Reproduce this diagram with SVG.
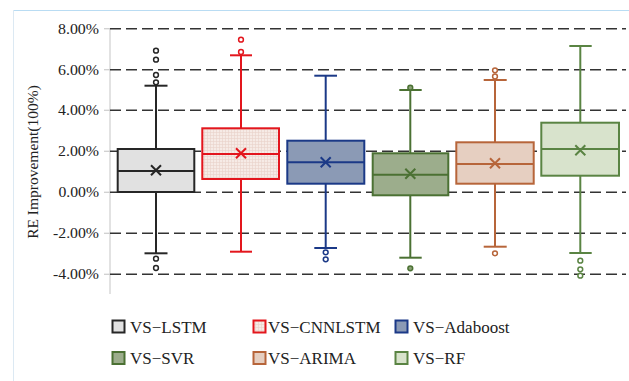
<svg xmlns="http://www.w3.org/2000/svg" width="629" height="381" viewBox="0 0 629 381">
<defs>
<pattern id="pgrid" width="3" height="3" patternUnits="userSpaceOnUse">
<rect width="3" height="3" fill="#f6ebe6"/>
<path d="M0 0.5H3M0.5 0V3" stroke="#ead2ca" stroke-width="0.6" fill="none"/>
</pattern>
<style>
.tick{font-family:"Liberation Serif","Times New Roman",serif;font-size:14px;fill:#222;text-anchor:end}
.leg{font-family:"Liberation Serif","Times New Roman",serif;font-size:17px;fill:#222}
.grid{stroke:#333;stroke-width:1.6;stroke-dasharray:11 5;fill:none}
.b{stroke-width:2}
.o{stroke-width:1.5;fill:#fff}
</style>
</defs>
<rect width="629" height="381" fill="#fff"/>
<!-- frame -->
<line x1="13" y1="10.5" x2="629" y2="10.5" stroke="#b9dcf3" stroke-width="1.2"/>
<line x1="13.5" y1="10" x2="13.5" y2="381" stroke="#dce9f3" stroke-width="1"/>
<!-- axis -->
<g id="axis">
<line x1="110" y1="28" x2="110" y2="294" stroke="#d9d9d9" stroke-width="1.5"/>
<g stroke="#cfcfcf" stroke-width="1.3">
<line x1="104" y1="28.7" x2="110" y2="28.7"/>
<line x1="104" y1="69.7" x2="110" y2="69.7"/>
<line x1="104" y1="110.3" x2="110" y2="110.3"/>
<line x1="104" y1="151.3" x2="110" y2="151.3"/>
<line x1="104" y1="192.3" x2="110" y2="192.3"/>
<line x1="104" y1="233.3" x2="110" y2="233.3"/>
<line x1="104" y1="274.3" x2="110" y2="274.3"/>
</g>
<text class="tick" x="99" y="33.5" textLength="41" lengthAdjust="spacingAndGlyphs">8.00%</text>
<text class="tick" x="99" y="74.5" textLength="41" lengthAdjust="spacingAndGlyphs">6.00%</text>
<text class="tick" x="99" y="115" textLength="41" lengthAdjust="spacingAndGlyphs">4.00%</text>
<text class="tick" x="99" y="156" textLength="41" lengthAdjust="spacingAndGlyphs">2.00%</text>
<text class="tick" x="99" y="197" textLength="40.5" lengthAdjust="spacingAndGlyphs">0.00%</text>
<text class="tick" x="99" y="238" textLength="46" lengthAdjust="spacingAndGlyphs">-2.00%</text>
<text class="tick" x="99" y="279" textLength="46" lengthAdjust="spacingAndGlyphs">-4.00%</text>
<text transform="translate(38,162) rotate(-90)" text-anchor="middle" font-family="Liberation Serif, Times New Roman, serif" font-size="15.5" fill="#222">RE Improvement(100%)</text>
</g>
<g id="gridlines">
<line class="grid" x1="110" y1="28.7" x2="626" y2="28.7"/>
<line class="grid" x1="110" y1="69.7" x2="626" y2="69.7"/>
<line class="grid" x1="110" y1="110.3" x2="626" y2="110.3"/>
<line class="grid" x1="110" y1="151.3" x2="626" y2="151.3"/>
<line class="grid" x1="110" y1="192.3" x2="626" y2="192.3"/>
<line class="grid" x1="110" y1="233.3" x2="626" y2="233.3"/>
<line class="grid" x1="110" y1="274.3" x2="626" y2="274.3"/>
</g>
<!-- box 1 LSTM -->
<g id="box-lstm" stroke="#262626" class="b">
<line x1="156" y1="85.7" x2="156" y2="253.3" stroke-width="2"/>
<line x1="144.5" y1="85.7" x2="167.5" y2="85.7" stroke-width="2"/>
<line x1="144.5" y1="253.3" x2="167.5" y2="253.3" stroke-width="2"/>
<rect x="117.7" y="149" width="76.6" height="43" fill="#e1e1e1" stroke-width="2"/>
<line x1="117.7" y1="171" x2="194.3" y2="171" stroke-width="2"/>
<path d="M151 165.3L161 175.3M161 165.3L151 175.3" stroke-width="2"/>
<g class="o"><circle cx="156" cy="50.7" r="2.4"/><circle cx="156" cy="59.7" r="2.4"/><circle cx="156" cy="75" r="2.4"/><circle cx="156" cy="82.3" r="2.4"/><circle cx="156" cy="258.7" r="2.4"/><circle cx="156" cy="268" r="2.4"/></g>
</g>
<!-- box 2 CNNLSTM -->
<g id="box-cnnlstm" stroke="#e3161d">
<line x1="241" y1="55.3" x2="241" y2="251.7" stroke-width="2"/>
<line x1="230" y1="55.3" x2="252" y2="55.3" stroke-width="2"/>
<line x1="230" y1="251.7" x2="252" y2="251.7" stroke-width="2"/>
<rect x="202.3" y="128.3" width="76.7" height="50.7" fill="url(#pgrid)" stroke-width="2"/>
<line x1="202.3" y1="154" x2="279" y2="154" stroke-width="2"/>
<path d="M236 148.3L246 158.3M246 148.3L236 158.3" stroke-width="2"/>
<g class="o"><circle cx="241" cy="39.7" r="2.4"/><circle cx="241" cy="52" r="2.4"/></g>
</g>
<!-- box 3 Adaboost -->
<g id="box-adaboost" stroke="#1b3987">
<line x1="325.7" y1="75.7" x2="325.7" y2="248" stroke-width="2"/>
<line x1="314.3" y1="75.7" x2="337" y2="75.7" stroke-width="2"/>
<line x1="314.3" y1="248" x2="337" y2="248" stroke-width="2"/>
<rect x="287.3" y="140.7" width="77" height="43" fill="#8b9ab5" stroke-width="2"/>
<line x1="287.3" y1="162.3" x2="364.3" y2="162.3" stroke-width="2"/>
<path d="M320.7 157.3L330.7 167.3M330.7 157.3L320.7 167.3" stroke-width="2"/>
<g class="o"><circle cx="325.7" cy="252.3" r="2.4"/><circle cx="325.7" cy="259.3" r="2.4"/></g>
</g>
<!-- box 4 SVR -->
<g id="box-svr" stroke="#4b7133">
<line x1="410.3" y1="90" x2="410.3" y2="257.7" stroke-width="2"/>
<line x1="399.3" y1="90" x2="421.7" y2="90" stroke-width="2"/>
<line x1="399.3" y1="257.7" x2="421.7" y2="257.7" stroke-width="2"/>
<rect x="372.7" y="153.3" width="75.6" height="42" fill="#9cad8c" stroke-width="2"/>
<line x1="372.7" y1="174.7" x2="448.3" y2="174.7" stroke-width="2"/>
<path d="M405.3 168.7L415.3 178.7M415.3 168.7L405.3 178.7" stroke-width="2"/>
<g stroke-width="1.5" fill="#8ba277"><circle cx="410.3" cy="87.7" r="2.4"/><circle cx="410.3" cy="268.3" r="2.4"/></g>
</g>
<!-- box 5 ARIMA -->
<g id="box-arima" stroke="#b7653a">
<line x1="495" y1="80" x2="495" y2="246.7" stroke-width="2"/>
<line x1="483.7" y1="80" x2="506.7" y2="80" stroke-width="2"/>
<line x1="483.7" y1="246.7" x2="506.7" y2="246.7" stroke-width="2"/>
<rect x="456.3" y="142.3" width="77.4" height="41.4" fill="#e6cfc1" stroke-width="2"/>
<line x1="456.3" y1="164" x2="533.7" y2="164" stroke-width="2"/>
<path d="M490 158.3L500 168.3M500 158.3L490 168.3" stroke-width="2"/>
<g class="o"><circle cx="495" cy="70.3" r="2.4"/><circle cx="495" cy="76.5" r="2.4"/><circle cx="495" cy="253.3" r="2.4"/></g>
</g>
<!-- box 6 RF -->
<g id="box-rf" stroke="#5a8443">
<line x1="580.3" y1="46" x2="580.3" y2="253" stroke-width="2"/>
<line x1="569.3" y1="46" x2="591.7" y2="46" stroke-width="2"/>
<line x1="569.3" y1="253" x2="591.7" y2="253" stroke-width="2"/>
<rect x="541.3" y="122.7" width="77.7" height="53" fill="#d8e3cc" stroke-width="2"/>
<line x1="541.3" y1="149" x2="619" y2="149" stroke-width="2"/>
<path d="M575.3 145.3L585.3 155.3M585.3 145.3L575.3 155.3" stroke-width="2"/>
<g class="o"><circle cx="580.3" cy="260.7" r="2.4"/><circle cx="580.3" cy="269.3" r="2.4"/><circle cx="580.3" cy="275.7" r="2.4"/></g>
</g>
<!-- legend -->
<g id="legend">
<g id="leg-lstm"><rect x="112.5" y="320.5" width="12" height="12" fill="#e1e1e1" stroke="#262626" stroke-width="2"/><text class="leg" x="130" y="332.5">VS−LSTM</text></g>
<g id="leg-cnnlstm"><rect x="253.5" y="320.5" width="12" height="12" fill="url(#pgrid)" stroke="#e3161d" stroke-width="2"/><text class="leg" x="268" y="332.5">VS−CNNLSTM</text></g>
<g id="leg-adaboost"><rect x="395.5" y="320.5" width="12" height="12" fill="#8b9ab5" stroke="#1b3987" stroke-width="2"/><text class="leg" x="413" y="332.5">VS−Adaboost</text></g>
<g id="leg-svr"><rect x="112.5" y="352" width="12" height="12" fill="#9cad8c" stroke="#4b7133" stroke-width="2"/><text class="leg" x="130" y="364">VS−SVR</text></g>
<g id="leg-arima"><rect x="253.5" y="352" width="12" height="12" fill="#e6cfc1" stroke="#b7653a" stroke-width="2"/><text class="leg" x="268" y="364">VS−ARIMA</text></g>
<g id="leg-rf"><rect x="395.5" y="352" width="12" height="12" fill="#d8e3cc" stroke="#5a8443" stroke-width="2"/><text class="leg" x="413" y="364">VS−RF</text></g>
</g>
</svg>
